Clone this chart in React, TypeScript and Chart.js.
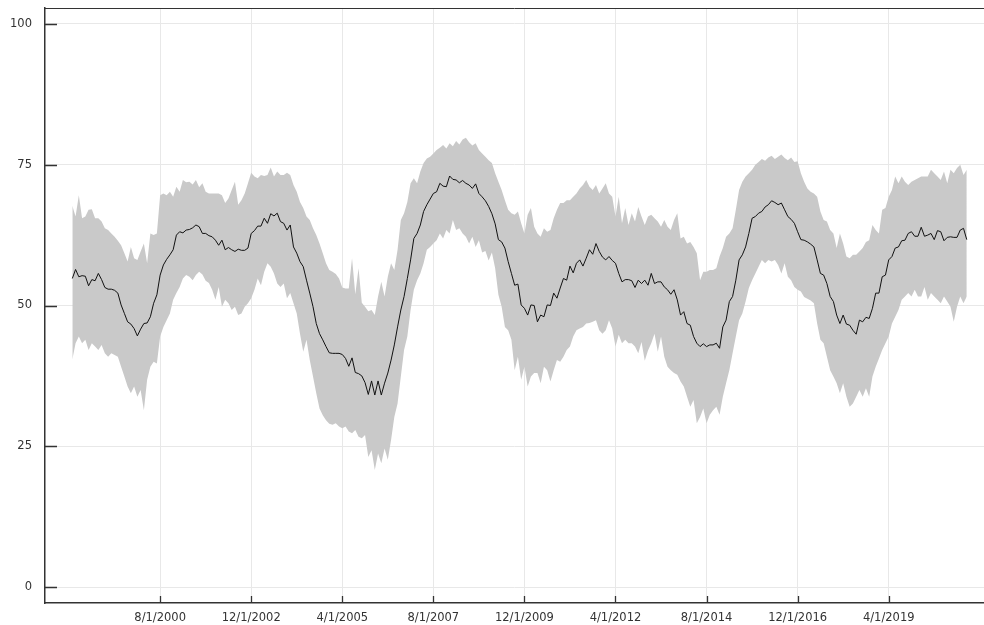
import React, { useEffect, useRef } from 'react';
import { Chart, registerables } from 'chart.js';

Chart.register(...registerables);

// Monthly categories: 5/1/1998 .. 4/1/2021
const startYear = 1998;
const startMonth = 5;
const monthCount = 276;
const categories: string[] = [];
for (let i = 0; i < monthCount; i++) {
  const t = startMonth - 1 + i;
  categories.push(`${(t % 12) + 1}/1/${startYear + Math.floor(t / 12)}`);
}

const meanValues = [
  54.8, 56.4, 55.1, 55.3, 55.2, 53.5, 54.6, 54.4, 55.7, 54.6,
  53.2, 52.9, 52.9, 52.7, 52.2, 50.1, 48.6, 47.1, 46.7, 45.9,
  44.6, 45.8, 46.8, 46.9, 48.0, 50.4, 51.9, 55.4, 57.2, 58.2,
  59.0, 59.9, 62.5, 63.1, 62.9, 63.4, 63.5, 63.8, 64.3, 64.0,
  62.8, 62.8, 62.4, 62.2, 61.6, 60.7, 61.6, 59.9, 60.3, 59.9,
  59.6, 60.0, 59.8, 59.8, 60.2, 62.8, 63.3, 64.1, 64.1, 65.5,
  64.6, 66.3, 65.9, 66.4, 64.9, 64.6, 63.4, 64.3, 60.4, 59.3,
  57.8, 56.9, 54.5, 52.2, 49.8, 46.8, 45.0, 43.9, 42.7, 41.6,
  41.5, 41.5, 41.5, 41.3, 40.6, 39.2, 40.7, 38.1, 37.9, 37.5,
  36.3, 34.2, 36.6, 34.1, 36.6, 34.1, 36.2, 38.0, 40.3, 43.0,
  46.2, 49.2, 51.6, 54.8, 58.1, 61.9, 62.8, 64.3, 66.7, 67.9,
  68.9, 69.9, 70.2, 71.7, 71.2, 71.1, 73.0, 72.4, 72.3, 71.8,
  72.2, 71.7, 71.4, 70.8, 71.6, 69.9, 69.3, 68.6, 67.6, 66.3,
  64.5, 61.7, 61.3, 60.2, 57.8, 55.7, 53.6, 53.8, 50.1, 49.5,
  48.3, 50.1, 50.0, 47.1, 48.3, 48.0, 50.1, 50.0, 52.2, 51.3,
  53.1, 54.8, 54.5, 57.0, 55.8, 57.5, 58.1, 57.0, 58.4, 59.9,
  59.1, 61.0, 59.6, 58.6, 58.1, 58.7, 58.0, 57.5, 55.7, 54.2,
  54.6, 54.6, 54.4, 53.2, 54.5, 53.9, 54.5, 53.6, 55.7, 53.9,
  54.2, 54.2, 53.3, 52.8, 52.0, 52.8, 51.0, 48.3, 48.9, 46.8,
  46.5, 44.5, 43.3, 42.7, 43.2, 42.7, 43.0, 43.0, 43.3, 42.4,
  46.2, 47.4, 50.7, 51.6, 54.5, 58.1, 59.0, 60.4, 62.8, 65.5,
  65.8, 66.4, 66.7, 67.5, 67.9, 68.6, 68.3, 67.9, 68.2, 67.0,
  65.8, 65.3, 64.6, 63.1, 61.7, 61.6, 61.3, 60.9, 60.4, 58.1,
  55.7, 55.4, 53.9, 51.6, 50.7, 48.3, 46.8, 48.3, 46.7, 46.5,
  45.6, 44.9, 47.4, 47.1, 47.9, 47.7, 49.5, 52.2, 52.2, 55.1,
  55.4, 58.1, 58.7, 60.2, 60.4, 61.5, 61.6, 62.8, 63.1, 62.3,
  62.3, 63.9, 62.3, 62.5, 62.8, 61.7, 63.3, 63.1, 61.5, 62.1,
  62.2, 62.1, 62.1, 63.4, 63.7, 61.7,
];

const upperValues = [
  67.7, 65.8, 69.6, 65.5, 65.8, 67.0, 67.1, 65.5, 65.5, 64.9,
  63.7, 63.4, 62.8, 62.2, 61.5, 60.7, 59.3, 57.8, 60.4, 58.4,
  58.1, 59.6, 61.0, 57.5, 62.8, 62.5, 62.8, 69.6, 69.9, 69.6,
  70.2, 69.3, 71.1, 70.2, 72.3, 71.9, 72.0, 71.5, 72.3, 71.0,
  71.7, 70.2, 69.9, 69.9, 69.9, 69.9, 69.6, 68.2, 69.0, 70.5,
  72.0, 67.9, 68.7, 69.9, 71.7, 73.6, 72.9, 72.6, 73.2, 73.0,
  73.2, 74.5, 72.9, 73.8, 73.2, 73.2, 73.6, 73.2, 71.4, 70.2,
  68.4, 67.3, 65.8, 65.2, 63.7, 62.5, 61.0, 59.3, 57.5, 56.3,
  56.0, 55.6, 54.8, 53.2, 53.0, 53.0, 58.4, 52.0, 56.6, 50.5,
  49.8, 49.0, 49.2, 48.3, 51.6, 54.2, 51.6, 55.1, 57.5, 56.3,
  59.9, 65.2, 66.4, 68.4, 71.7, 72.6, 71.7, 73.8, 75.3, 76.1,
  76.4, 77.0, 77.6, 78.0, 78.5, 77.9, 78.8, 78.3, 79.2, 78.6,
  79.5, 79.8, 79.0, 78.4, 78.8, 77.6, 77.0, 76.4, 75.8, 75.3,
  73.5, 72.0, 70.5, 68.7, 67.0, 66.4, 66.1, 66.7, 64.6, 62.8,
  66.1, 67.3, 64.0, 62.8, 62.2, 63.7, 63.1, 63.4, 65.5, 67.0,
  68.2, 68.2, 68.7, 68.7, 69.3, 69.9, 70.8, 71.4, 72.3, 71.1,
  70.5, 71.4, 69.9, 70.8, 71.7, 69.9, 69.3, 65.8, 69.3, 64.6,
  67.3, 64.3, 66.4, 64.9, 67.5, 65.8, 64.3, 65.8, 66.1, 65.5,
  64.9, 64.0, 65.2, 64.0, 63.4, 65.2, 66.4, 61.9, 62.2, 61.0,
  61.3, 60.4, 59.3, 54.5, 56.0, 56.0, 56.3, 56.3, 56.6, 58.7,
  60.2, 62.2, 62.8, 63.7, 67.0, 70.5, 72.0, 72.9, 73.5, 74.1,
  75.0, 75.5, 76.0, 75.7, 76.3, 76.6, 76.0, 76.4, 76.8, 76.2,
  75.8, 76.3, 75.5, 75.6, 73.5, 72.0, 70.8, 70.2, 69.9, 69.3,
  66.7, 65.2, 64.9, 63.4, 62.8, 60.2, 62.8, 61.0, 58.7, 58.4,
  59.0, 59.0, 59.6, 60.2, 61.3, 61.6, 64.3, 63.4, 62.8, 67.0,
  67.3, 69.3, 70.5, 72.9, 71.7, 72.9, 72.0, 71.4, 72.0, 72.3,
  72.6, 72.9, 72.9, 72.9, 74.1, 73.5, 72.9, 72.3, 73.8, 71.7,
  74.1, 73.5, 74.4, 75.0, 73.2, 74.1,
];

const lowerValues = [
  40.4, 43.3, 44.5, 43.3, 43.9, 42.1, 43.3, 42.7, 42.1, 43.0,
  41.5, 40.9, 41.5, 41.2, 40.9, 39.1, 37.4, 35.6, 34.4, 35.6,
  33.8, 35.0, 31.4, 36.8, 39.1, 40.0, 39.7, 44.5, 46.2, 47.4,
  48.6, 51.0, 52.2, 53.3, 54.8, 55.4, 55.1, 54.5, 55.4, 56.0,
  55.5, 54.4, 54.0, 52.8, 51.0, 53.3, 49.8, 51.0, 50.4, 49.2,
  49.8, 48.3, 48.6, 49.8, 50.4, 51.3, 52.8, 54.8, 53.6, 56.0,
  57.5, 56.9, 55.7, 53.9, 53.3, 53.9, 51.3, 52.2, 50.4, 48.6,
  45.0, 41.8, 43.9, 40.3, 37.4, 34.4, 31.7, 30.5, 29.6, 29.0,
  28.8, 29.1, 28.5, 28.2, 28.5, 27.6, 27.3, 27.9, 26.7, 26.4,
  27.0, 23.1, 24.3, 20.8, 23.7, 22.0, 24.6, 22.6, 26.1, 30.2,
  32.6, 37.4, 42.1, 44.5, 49.2, 52.8, 54.5, 55.7, 57.5, 59.9,
  60.4, 61.0, 61.6, 62.8, 61.9, 63.4, 62.8, 65.2, 63.4, 63.7,
  62.8, 62.2, 61.0, 62.2, 60.4, 61.6, 59.4, 59.7, 58.0, 59.4,
  56.6, 51.9, 49.8, 46.2, 45.6, 43.9, 38.5, 40.9, 36.8, 39.1,
  35.6, 37.4, 38.0, 38.0, 36.2, 39.1, 38.5, 36.5, 38.5, 40.3,
  40.0, 40.9, 42.1, 42.7, 44.5, 45.6, 45.9, 46.2, 46.8, 46.9,
  47.1, 47.4, 45.6, 45.0, 45.6, 47.4, 45.9, 42.7, 44.8, 43.3,
  43.9, 43.3, 43.3, 42.7, 41.5, 43.5, 40.2, 42.0, 43.3, 45.0,
  41.8, 44.5, 40.9, 39.1, 38.5, 38.0, 37.7, 36.5, 35.6, 33.8,
  32.0, 33.2, 29.1, 30.2, 31.7, 29.1, 30.6, 31.4, 32.0, 30.6,
  33.8, 36.2, 38.5, 41.5, 44.5, 47.4, 48.6, 50.7, 53.1, 54.5,
  55.7, 56.9, 58.1, 57.5, 58.1, 57.8, 58.1, 57.2, 55.7, 57.5,
  55.1, 54.5, 53.3, 52.8, 52.5, 51.5, 51.2, 50.9, 50.4, 46.8,
  43.9, 43.3, 40.9, 38.5, 37.4, 36.2, 34.4, 36.2, 33.8, 32.0,
  32.6, 33.8, 35.0, 33.8, 35.3, 33.8, 37.4, 39.1, 40.6, 42.1,
  43.3, 44.5, 46.8, 48.0, 49.2, 51.0, 51.6, 52.2, 51.6, 52.8,
  51.6, 51.6, 53.3, 51.0, 52.2, 51.6, 51.0, 50.4, 51.6, 50.7,
  49.8, 47.1, 49.8, 51.6, 50.4, 51.6,
];

const xTickLabels = [
  '8/1/2000', '12/1/2002', '4/1/2005', '8/1/2007', '12/1/2009',
  '4/1/2012', '8/1/2014', '12/1/2016', '4/1/2019',
];
const yTickValues = [0, 25, 50, 75, 100];

const xTickIndices = xTickLabels.map((l) => categories.indexOf(l));

const AXIS_COLOR = '#333333';
const FONT = { family: '"DejaVu Sans", sans-serif', size: 11.5 };

const framePlugin = {
  id: 'frame',
  afterDraw(chart: any) {
    const { ctx, chartArea: a, scales } = chart;
    ctx.save();
    ctx.strokeStyle = AXIS_COLOR;
    ctx.lineWidth = 1;
    ctx.beginPath();
    ctx.moveTo(a.left, a.top + 0.5);
    ctx.lineTo(a.right, a.top + 0.5);
    ctx.stroke();
    ctx.lineWidth = 1.3;
    ctx.beginPath();
    for (const v of yTickValues) {
      const y = Math.round(scales.y.getPixelForValue(v)) + 0.5;
      ctx.moveTo(a.left, y);
      ctx.lineTo(a.left + 12, y);
    }
    for (const i of xTickIndices) {
      const x = Math.round(scales.x.getPixelForValue(i)) + 0.5;
      ctx.moveTo(x, a.bottom);
      ctx.lineTo(x, a.bottom - 7);
    }
    ctx.stroke();
    ctx.restore();
  },
};

export default function App() {
  const ref = useRef<HTMLCanvasElement | null>(null);

  useEffect(() => {
    document.body.style.margin = '0';
    const canvas = ref.current;
    if (!canvas) return;
    const toXY = (arr: number[]) => arr.map((v, i) => ({ x: i, y: v }));
    const chart = new Chart(canvas, {
      type: 'line',
      data: {
        datasets: [
          {
            label: 'mean',
            data: toXY(meanValues),
            borderColor: '#111111',
            borderWidth: 1,
            pointRadius: 0,
            fill: false,
            tension: 0,
            order: 0,
          },
          {
            label: 'upper',
            data: toXY(upperValues),
            borderWidth: 0,
            borderColor: 'rgba(0,0,0,0)',
            backgroundColor: 'rgb(201,201,201)',
            pointRadius: 0,
            fill: 2,
            tension: 0,
            order: 1,
          },
          {
            label: 'lower',
            data: toXY(lowerValues),
            borderWidth: 0,
            borderColor: 'rgba(0,0,0,0)',
            pointRadius: 0,
            fill: false,
            tension: 0,
            order: 2,
          },
        ],
      },
      options: {
        responsive: false,
        animation: false,
        devicePixelRatio: 1,
        layout: { padding: { top: 8, left: 0, right: 0, bottom: 0 } },
        plugins: { legend: { display: false }, tooltip: { enabled: false } },
        scales: {
          x: {
            type: 'linear',
            min: -8.4,
            max: 280.3,
            afterFit: (s: any) => {
              s.height = 22;
              s.paddingLeft = 0;
              s.paddingRight = 0;
            },
            afterBuildTicks: (s: any) => {
              s.ticks = xTickIndices.map((v) => ({ value: v }));
            },
            ticks: {
              autoSkip: false,
              maxRotation: 0,
              padding: 8,
              color: AXIS_COLOR,
              font: FONT,
              callback: (v: any) => categories[Number(v)] ?? '',
            },
            grid: { color: '#e8e8e8', lineWidth: 1, drawTicks: false },
            border: { display: true, color: AXIS_COLOR, width: 1.5 },
          },
          y: {
            type: 'linear',
            min: -2.84,
            max: 102.84,
            afterFit: (s: any) => {
              s.width = 45;
              s.paddingTop = 0;
              s.paddingBottom = 0;
            },
            afterBuildTicks: (s: any) => {
              s.ticks = yTickValues.map((v) => ({ value: v }));
            },
            ticks: {
              padding: 13,
              color: AXIS_COLOR,
              font: FONT,
              callback: (v: any) => String(v),
            },
            grid: { color: '#e8e8e8', lineWidth: 1, drawTicks: false },
            border: { display: true, color: AXIS_COLOR, width: 1.5 },
          },
        },
      },
      plugins: [framePlugin],
    });
    return () => chart.destroy();
  }, []);

  return (
    <div style={{ position: 'fixed', left: 0, top: 0, width: 984, height: 625, background: '#fff' }}>
      <canvas ref={ref} width={984} height={625} style={{ width: 984, height: 625, display: 'block' }} />
    </div>
  );
}
